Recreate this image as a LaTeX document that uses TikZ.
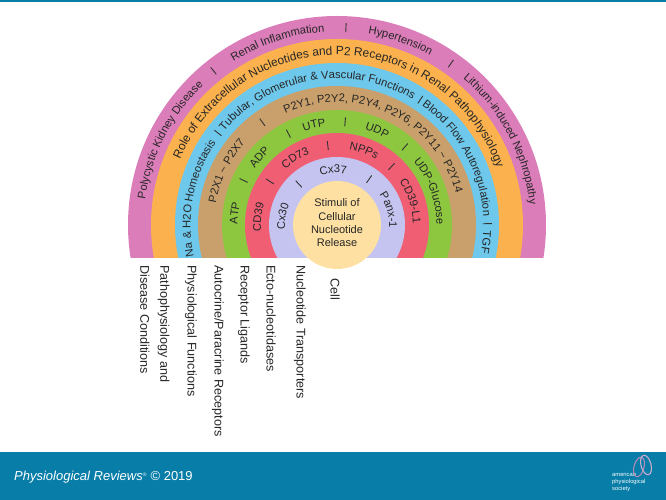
\documentclass[tikz,border=0pt]{standalone}
\usepackage{fontspec}
\setmainfont{Liberation Sans}
\usetikzlibrary{calc}

\definecolor{pinkring}{HTML}{DA7DB9}
\definecolor{orangering}{HTML}{FBB24E}
\definecolor{bluering}{HTML}{6DC8EC}
\definecolor{tanring}{HTML}{C9A06B}
\definecolor{greenring}{HTML}{8DC740}
\definecolor{redring}{HTML}{F05E74}
\definecolor{lavring}{HTML}{C5C4F0}
\definecolor{corering}{HTML}{FEE1A2}
\definecolor{bandblue}{HTML}{077DA8}
\definecolor{logomauve}{HTML}{B08AB8}

\newcommand{\ringfont}{\fontsize{11.2}{13}\selectfont}
{\catcode`\~=12 \gdef\tld{ ~ }}

% text set letter by letter along a ring: baseline radius, middle angle, text
\makeatletter
\newdimen\arcw
\def\arcend{\arcend@}
\def\arcmeasure#1{%
  \pgfinterruptpicture
    \settowidth{\dimen@}{\ringfont #1}\global\arcw=\dimen@
  \endpgfinterruptpicture}
\newcommand{\ringtext}[3]{%
  \arcmeasure{#3}%
  \def\arcrad{#1}%
  \pgfmathsetmacro\arcang{#2+\arcw/(pi*#1)*90}%
  \arcscan#3\arcend}
\def\arcscan{\futurelet\arctok\arcpick}
\def\arcpick{%
  \ifx\arctok\arcend
    \let\arcnext\arcfinish
  \else\ifx\arctok\@sptoken
    \let\arcnext\arcgap
  \else
    \let\arcnext\arcchar
  \fi\fi
  \arcnext}
\def\arcfinish\arcend{}
\def\arcgap{%
  \arcmeasure{\ }%
  \pgfmathsetmacro\arcang{\arcang-\arcw/(pi*\arcrad)*180}%
  \arceatspace}
\expandafter\def\expandafter\arceatspace\space{\arcscan}
\def\arcchar#1{\arcput{#1}\arcscan}
\def\arcput#1{%
  \arcmeasure{#1}%
  \pgfmathsetmacro\arcmid{\arcang-\arcw/(pi*\arcrad)*90}%
  \node[ringchar, rotate=\arcmid-90] at ([shift={(\arcmid:\arcrad pt)}]hub) {#1};%
  \pgfmathsetmacro\arcang{\arcang-\arcw/(pi*\arcrad)*180}}
\makeatother
% short radial mark between two items of a ring
\newcommand{\ringbar}[2]{%
  \draw[ringsep] ([shift={(#2:#1pt-4.5pt)}]hub) -- ([shift={(#2:#1pt+4.5pt)}]hub);}

\begin{document}
\begin{tikzpicture}[x=1pt, y=1pt,
  ringsep/.style={draw=black!80, line width=0.9pt},
  ringchar/.style={anchor=base, inner sep=0pt, text=black!85, font=\ringfont},
  collabel/.style={rotate=-90, anchor=west, inner sep=0pt, text=black!85,
    font=\fontsize{12.6}{20}\selectfont, align=left},
  footnote/.style={text=white, inner sep=0pt}
]
  \useasboundingbox (0,0) rectangle (666,500);
  \coordinate (hub) at (337,275);

  % rings, cut at the base line
  \begin{scope}
    \clip (0,242.5) rectangle (666,500);
    \fill[pinkring] (hub) circle[radius=209pt];
    \fill[orangering] (hub) circle[radius=186pt];
    \fill[bluering] (hub) circle[radius=162pt];
    \fill[tanring] (hub) circle[radius=139pt];
    \fill[greenring] (hub) circle[radius=115pt];
    \fill[redring] (hub) circle[radius=92pt];
    \fill[lavring] (hub) circle[radius=68pt];
  \end{scope}
  \fill[corering] (hub) circle[radius=44pt];
  \node[align=center, inner sep=0pt, text=black!85,
    font=\fontsize{11}{13.3}\selectfont] (stimuli) at ([yshift=2pt]hub)
    {Stimuli of\\Cellular\\Nucleotide\\Release};

  % pink ring
  \ringtext{193.5}{153}{Polycystic Kidney Disease}
  \ringtext{193.5}{108}{Renal Inflammation}
  \ringtext{193.5}{71}{Hypertension}
  \ringtext{193.5}{27.7}{Lithium-induced Nephropathy}
  \ringbar{197.5}{128.7}
  \ringbar{197.5}{87.4}
  \ringbar{197.5}{54.8}

  % orange ring
  \renewcommand{\ringfont}{\fontsize{11.9}{14}\selectfont}
  \ringtext{170}{88.5}{Role of Extracellular Nucleotides and P2 Receptors in Renal Pathophysiology}
  \renewcommand{\ringfont}{\fontsize{11.2}{13}\selectfont}

  % blue ring
  \ringtext{146.5}{169}{Na \& H2O Homeostasis}
  \ringtext{146.5}{100}{Tubular, Glomerular \& Vascular Functions}
  \ringtext{146.5}{29}{Blood Flow Autoregulation}
  \ringtext{146.5}{-6.6}{TGF}
  \ringbar{150.5}{142.3}
  \ringbar{150.5}{56.4}
  \ringbar{150.5}{0.5}

  % tan ring
  \ringtext{123}{154}{P2X1\tld P2X7}
  \ringtext{123}{65}{P2Y1, P2Y2, P2Y4, P2Y6, P2Y11\tld P2Y14}
  \ringbar{127}{126}

  % green ring
  \ringtext{99.5}{173.6}{ATP}
  \ringtext{99.5}{139}{ADP}
  \ringtext{99.5}{103}{UTP}
  \ringtext{99.5}{67}{UDP}
  \ringtext{99.5}{20}{UDP-Glucose}
  \ringbar{103.5}{154.5}
  \ringbar{103.5}{118}
  \ringbar{103.5}{85.5}
  \ringbar{103.5}{49}

  % red ring
  \ringtext{76}{174}{CD39}
  \ringtext{76}{122}{CD73}
  \ringtext{76}{70}{NPPs}
  \ringtext{76}{18}{CD39-L1}
  \ringbar{80}{147}
  \ringbar{80}{96.6}
  \ringbar{80}{47}

  % lavender ring
  \ringtext{52}{171}{Cx30}
  \ringtext{52}{94}{Cx37}
  \ringtext{52}{16}{Panx-1}
  \ringbar{56}{133}
  \ringbar{56}{55}

  % column names under the base line
  \node[collabel] (disease) at (155,235) {Pathophysiology and\\Disease Conditions};
  \node[collabel] (physio) at (191,235) {Physiological Functions};
  \node[collabel] (autocrine) at (218,235) {Autocrine/Paracrine Receptors};
  \node[collabel] (ligands) at (244,235) {Receptor Ligands};
  \node[collabel] (ecto) at (271,235) {Ecto-nucleotidases};
  \node[collabel] (transport) at (300,235) {Nucleotide Transporters};
  \node[collabel] (cell) at (335,222) {Cell};

  % footer band
  \fill[bandblue] (0,497.5) rectangle (666,500);
  \fill[bandblue] (0,0) rectangle (666,48);
  \node[footnote, anchor=base west, font=\fontsize{13}{15}\selectfont] (journal) at (14,19)
    {\textit{Physiological Reviews}\textsuperscript{\fontsize{5}{5}\selectfont ®} © 2019};
  \node[footnote, anchor=west, align=left, font=\fontsize{5.8}{6.6}\selectfont] (society)
    at (612,18) {american\\physiological\\society};
  \draw[logomauve, line width=1.1pt, rotate around={-15:(639,33)}]
    (639,33) ellipse[x radius=5pt, y radius=10pt];
  \draw[logomauve!70, line width=1.1pt, rotate around={15:(646,35)}]
    (646,35) ellipse[x radius=5pt, y radius=10pt];
\end{tikzpicture}
\end{document}
